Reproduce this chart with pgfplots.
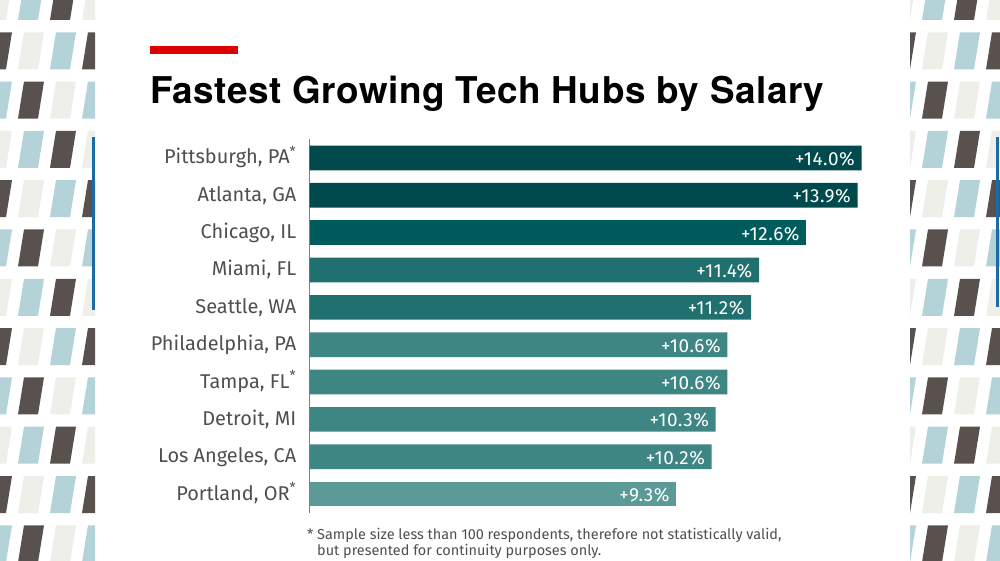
\documentclass[border=0pt]{standalone}
\usepackage{fontspec}
\setmainfont{Fira Sans}
\newfontfamily\titlefont[LetterSpace=1.5]{TeX Gyre Heros}
\newfontfamily\valuefont[LetterSpace=3]{Fira Sans}
\usepackage{pgfplots}
\pgfplotsset{compat=1.18}

\definecolor{stripe0}{HTML}{B4D3D9}
\definecolor{stripe1}{HTML}{58514D}
\definecolor{stripe2}{HTML}{EFEFEA}
\definecolor{edgeblue}{HTML}{1A6BA6}
\definecolor{hubred}{HTML}{DD0000}
\definecolor{tealA}{HTML}{004A4E}
\definecolor{tealB}{HTML}{005B5D}
\definecolor{tealC}{HTML}{1F706F}
\definecolor{tealD}{HTML}{3E8683}
\definecolor{tealE}{HTML}{5B9A97}
\definecolor{labelgray}{HTML}{4F4F4F}

\begin{document}
\begin{tikzpicture}
% page, side stripes, title and footnote (1 unit = 1 px of the reference)
\begin{scope}[x=1bp,y=-1bp]
  \fill[white] (0,0) rectangle (1000,561);
  \begin{scope}
    \clip (0,0) rectangle (95,561);
    \foreach \k in {0,...,11}{
      \foreach \c in {-1,...,3}{
        \pgfmathsetmacro\yt{-17+49.3*\k}
        \pgfmathsetmacro\yb{\yt+37}
        \pgfmathsetmacro\xo{18+32*\c}
        \pgfmathtruncatemacro\idx{mod(\c-\k+30,3)}
        \fill[stripe\idx] (\xo,\yb) -- (\xo+20,\yb) -- (\xo+26,\yt) -- (\xo+6,\yt) -- cycle;
      }}
  \end{scope}
  \begin{scope}
    \clip (910,0) rectangle (1000,561);
    \foreach \k in {0,...,11}{
      \foreach \c in {-1,...,3}{
        \pgfmathsetmacro\yt{-17+49.3*\k}
        \pgfmathsetmacro\yb{\yt+37}
        \pgfmathsetmacro\xo{922+32*\c}
        \pgfmathtruncatemacro\idx{mod(\c-\k+30,3)}
        \fill[stripe\idx] (\xo,\yb) -- (\xo+20,\yb) -- (\xo+26,\yt) -- (\xo+6,\yt) -- cycle;
      }}
  \end{scope}
  \fill[edgeblue] (92,137) rectangle (95,310);
  \fill[edgeblue] (996,137) rectangle (999,307);

  \fill[hubred] (150,46) rectangle (238,54);
  \node[anchor=base west, inner sep=0pt, font=\titlefont\bfseries\fontsize{37}{37}\selectfont]
    at (150,104) {Fastest Growing Tech Hubs by Salary};

  \node[anchor=base west, inner sep=0pt, text=labelgray, font=\fontsize{14.5}{14.5}\selectfont]
    at (307,539) {*};
  \node[anchor=base west, inner sep=0pt, text=labelgray, font=\fontsize{14.5}{14.5}\selectfont]
    at (317,539) {Sample size less than 100 respondents, therefore not statistically valid,};
  \node[anchor=base west, inner sep=0pt, text=labelgray, font=\fontsize{14.5}{14.5}\selectfont]
    at (317,555) {but presented for continuity purposes only.};
\end{scope}

\begin{axis}[
  at={(309.5bp,-512.7bp)}, anchor=south west,
  scale only axis, width=552bp, height=373.4bp,
  xmin=0, xmax=14, ymin=-0.5, ymax=9.5, y dir=reverse,
  xbar, bar shift=0pt, bar width=0.66,
  axis x line=none, axis y line=left,
  y axis line style={-, draw=gray, line width=1.3bp},
  ytick={0,...,9}, major tick length=0pt,
  yticklabels={{Pittsburgh, PA\textsuperscript{*}},{Atlanta, GA},{Chicago, IL},{Miami, FL},{Seattle, WA},
    {Philadelphia, PA},{Tampa, FL\textsuperscript{*}},{Detroit, MI},{Los Angeles, CA},{Portland, OR\textsuperscript{*}}},
  yticklabel style={font=\fontsize{20}{20}\selectfont, text=labelgray, inner sep=0pt,
    anchor=base east, xshift=-13bp, yshift=-6bp},
  point meta=x,
  nodes near coords={+\pgfmathprintnumber[fixed,fixed zerofill,precision=1,assume math mode=true]{\pgfplotspointmeta}\%},
  every node near coord/.append style={anchor=base east, text=white, font=\valuefont\fontsize{19}{19}\selectfont,
    inner sep=0pt, xshift=-6.5bp, yshift=-7.5bp},
  clip=false,
]
\addplot[fill=tealA, draw=none] coordinates {(14.0,0) (13.9,1)};
\addplot[fill=tealB, draw=none] coordinates {(12.6,2)};
\addplot[fill=tealC, draw=none] coordinates {(11.4,3) (11.2,4)};
\addplot[fill=tealD, draw=none] coordinates {(10.6,5) (10.6,6) (10.3,7) (10.2,8)};
\addplot[fill=tealE, draw=none] coordinates {(9.3,9)};
\end{axis}
\end{tikzpicture}
\end{document}
